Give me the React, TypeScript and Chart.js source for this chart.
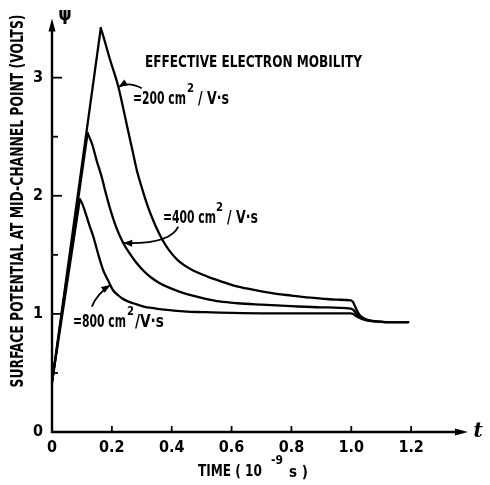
import React, { useEffect, useRef } from "react";
import { Chart, registerables } from "chart.js";

Chart.register(...registerables);

// ---- Data ----
const seriesNames = ["200 cm²/V·s", "400 cm²/V·s", "800 cm²/V·s"];

// index 1 of each series is the peak; before it the potential rises linearly
const t200 = [0, 0.163, 0.175, 0.193, 0.221, 0.25, 0.27, 0.285, 0.30, 0.32, 0.34, 0.36, 0.38, 0.40, 0.42, 0.44, 0.47, 0.50, 0.53, 0.56, 0.60, 0.65, 0.70, 0.75, 0.80, 0.85, 0.90, 0.95, 0.998, 1.006, 1.015, 1.025, 1.04, 1.06, 1.09, 1.13, 1.19];
const psi200 = [0.42, 3.42, 3.32, 3.16, 2.93, 2.60, 2.37, 2.20, 2.07, 1.91, 1.78, 1.67, 1.58, 1.51, 1.455, 1.415, 1.37, 1.335, 1.305, 1.28, 1.245, 1.215, 1.19, 1.17, 1.155, 1.14, 1.13, 1.12, 1.115, 1.10, 1.05, 1.00, 0.965, 0.945, 0.935, 0.93, 0.93];

const t400 = [0, 0.119, 0.135, 0.149, 0.166, 0.18, 0.193, 0.215, 0.238, 0.26, 0.28, 0.304, 0.33, 0.36, 0.393, 0.43, 0.47, 0.51, 0.56, 0.62, 0.70, 0.80, 0.90, 0.998, 1.006, 1.015, 1.025, 1.04, 1.06, 1.09, 1.13, 1.19];
const psi400 = [0.42, 2.53, 2.43, 2.30, 2.16, 2.02, 1.90, 1.73, 1.60, 1.51, 1.44, 1.37, 1.31, 1.26, 1.22, 1.185, 1.155, 1.13, 1.105, 1.09, 1.078, 1.065, 1.055, 1.045, 1.035, 1.01, 0.985, 0.96, 0.943, 0.935, 0.93, 0.93];

const t800 = [0, 0.093, 0.10, 0.11, 0.125, 0.138, 0.155, 0.171, 0.18, 0.19, 0.204, 0.22, 0.235, 0.25, 0.271, 0.29, 0.31, 0.335, 0.36, 0.40, 0.45, 0.50, 0.56, 0.70, 0.85, 0.998, 1.006, 1.015, 1.025, 1.045, 1.07, 1.10, 1.14, 1.19];
const psi800 = [0.42, 1.97, 1.94, 1.87, 1.75, 1.655, 1.50, 1.37, 1.32, 1.27, 1.20, 1.16, 1.13, 1.11, 1.09, 1.075, 1.06, 1.05, 1.04, 1.03, 1.02, 1.015, 1.01, 1.005, 1.005, 1.005, 1.0, 0.985, 0.97, 0.95, 0.938, 0.933, 0.93, 0.93];

const xTickValues = [0, 0.2, 0.4, 0.6, 0.8, 1.0, 1.2];
const xTickLabels = ["0", "0.2", "0.4", "0.6", "0.8", "1.0", "1.2"];
const yTickValues = [0, 0.5, 1, 1.5, 2, 2.5, 3];
const yTickLabels = ["0", "", "1", "", "2", "", "3"];

const FONT = '"DejaVu Sans Condensed", "DejaVu Sans", sans-serif';

function fitText(ctx: CanvasRenderingContext2D, text: string, x: number, y: number, width: number, size: number, align: CanvasTextAlign = "left") {
  ctx.save();
  ctx.font = `bold ${size}px ${FONT}`;
  const w = ctx.measureText(text).width;
  const sx = width / w;
  ctx.translate(x, y);
  ctx.scale(sx, 1);
  ctx.textAlign = align;
  ctx.textBaseline = "middle";
  ctx.fillText(text, 0, 0);
  ctx.restore();
}

function curvedArrow(ctx: CanvasRenderingContext2D, tail: number[], ctrl: number[], head: number[]) {
  ctx.beginPath();
  ctx.moveTo(tail[0], tail[1]);
  ctx.quadraticCurveTo(ctrl[0], ctrl[1], head[0], head[1]);
  ctx.stroke();
  const dx = head[0] - ctrl[0];
  const dy = head[1] - ctrl[1];
  const len = Math.hypot(dx, dy) || 1;
  const ux = dx / len, uy = dy / len;
  const L = 9, W = 3.5;
  ctx.beginPath();
  ctx.moveTo(head[0], head[1]);
  ctx.lineTo(head[0] - ux * L - uy * W, head[1] - uy * L + ux * W);
  ctx.lineTo(head[0] - ux * L + uy * W, head[1] - uy * L - ux * W);
  ctx.closePath();
  ctx.fill();
}

const decorPlugin = {
  id: "decor",
  afterDraw(chart: any) {
    const { ctx, chartArea, scales } = chart;
    const xs = scales.x, ys = scales.y;
    const X = (v: number) => xs.getPixelForValue(v);
    const Y = (v: number) => ys.getPixelForValue(v);
    const x0 = X(0), y0 = Y(0);
    const xEnd = chartArea.right, yTop = chartArea.top;
    ctx.save();
    ctx.strokeStyle = "#000";
    ctx.fillStyle = "#000";
    ctx.lineWidth = 2.4;
    ctx.lineCap = "butt";

    // y axis with arrow
    ctx.beginPath();
    ctx.moveTo(x0, y0 + 1);
    ctx.lineTo(x0, yTop + 8);
    ctx.stroke();
    ctx.beginPath();
    ctx.moveTo(x0, yTop);
    ctx.lineTo(x0 - 3.5, yTop + 13);
    ctx.lineTo(x0 + 3.5, yTop + 13);
    ctx.closePath();
    ctx.fill();

    // x axis with arrow
    ctx.beginPath();
    ctx.moveTo(x0 - 1, y0);
    ctx.lineTo(xEnd - 8, y0);
    ctx.stroke();
    ctx.beginPath();
    ctx.moveTo(xEnd, y0);
    ctx.lineTo(xEnd - 13, y0 - 3.5);
    ctx.lineTo(xEnd - 13, y0 + 3.5);
    ctx.closePath();
    ctx.fill();

    // inward tick marks
    ctx.lineWidth = 1.8;
    yTickValues.forEach((v) => {
      if (v === 0) return;
      const y = Y(v);
      const len = Number.isInteger(v) ? 10 : 6;
      ctx.beginPath();
      ctx.moveTo(x0, y);
      ctx.lineTo(x0 + len, y);
      ctx.stroke();
    });
    xTickValues.forEach((v) => {
      if (v === 0) return;
      const x = X(v);
      ctx.beginPath();
      ctx.moveTo(x, y0);
      ctx.lineTo(x, y0 - 6);
      ctx.stroke();
    });

    // axis symbols
    ctx.font = `bold 17px "DejaVu Sans", sans-serif`;
    ctx.textAlign = "center";
    ctx.textBaseline = "middle";
    ctx.fillText("ψ", x0 + 13, yTop - 3);
    ctx.font = `bold italic 20px "DejaVu Serif", serif`;
    ctx.fillText("t", xEnd + 10, y0);

    // axis titles
    ctx.save();
    ctx.translate(19, 201);
    ctx.rotate(-Math.PI / 2);
    fitText(ctx, "SURFACE POTENTIAL AT MID-CHANNEL POINT (VOLTS)", 0, 0, 373, 17, "center");
    ctx.restore();

    fitText(ctx, "TIME ( 10", 198, 472, 64, 16);
    fitText(ctx, "-9", 271, 461, 12, 13);
    fitText(ctx, "s )", 289, 473, 19, 16);

    // annotation text
    fitText(ctx, "EFFECTIVE ELECTRON MOBILITY", 145, 63, 217, 16);

    fitText(ctx, "=200 cm", 133, 100, 53, 17);
    fitText(ctx, "2", 187, 89, 7, 13);
    fitText(ctx, "/ V·s", 198, 100, 31, 17);

    fitText(ctx, "=400 cm", 163, 219, 53, 17);
    fitText(ctx, "2", 216, 208, 7, 13);
    fitText(ctx, "/ V·s", 227, 219, 31, 17);

    fitText(ctx, "=800 cm", 73, 323, 53, 17);
    fitText(ctx, "2", 127, 312, 7, 13);
    fitText(ctx, "/V·s", 135, 323, 29, 17);

    // arrows pointing to the curves (data coordinates)
    ctx.lineWidth = 1.8;
    curvedArrow(ctx, [X(0.300), Y(2.91)], [X(0.254), Y(2.97)], [X(0.222), Y(2.92)]);
    curvedArrow(ctx, [X(0.422), Y(1.738)], [X(0.394), Y(1.586)], [X(0.238), Y(1.60)]);
    curvedArrow(ctx, [X(0.133), Y(1.061)], [X(0.150), Y(1.17)], [X(0.195), Y(1.245)]);

    ctx.restore();
  },
};

export default function App() {
  const canvasRef = useRef<HTMLCanvasElement | null>(null);

  useEffect(() => {
    const canvas = canvasRef.current;
    if (!canvas) return;
    const base = {
      borderColor: "#000",
      backgroundColor: "#000",
      borderWidth: 2.3,
      pointRadius: 0,
      fill: false,
      borderJoinStyle: "round" as const,
      borderCapStyle: "round" as const,
    };
    const pts = (t: number[], p: number[]) => t.map((x, i) => ({ x, y: p[i] }));
    // each series: straight rise to the peak, then a smooth monotone decay
    const mk = (t: number[], p: number[], label: string) => {
      const all = pts(t, p);
      return [
        { ...base, label: label + " (rise)", data: all.slice(0, 2), tension: 0 },
        { ...base, label, data: all.slice(1), cubicInterpolationMode: "monotone" as const },
      ];
    };
    const chart = new Chart(canvas, {
      type: "line",
      data: {
        datasets: [
          ...mk(t200, psi200, seriesNames[0]),
          ...mk(t400, psi400, seriesNames[1]),
          ...mk(t800, psi800, seriesNames[2]),
        ],
      },
      options: {
        responsive: false,
        animation: false,
        layout: { padding: { left: 0, top: 18, right: 22, bottom: 0 } },
        plugins: {
          legend: { display: false },
          tooltip: { enabled: false },
        },
        scales: {
          x: {
            type: "linear",
            min: 0,
            max: 1.39,
            grid: { display: false, drawTicks: false },
            border: { display: false },
            afterFit: (s: any) => { s.height = 53; },
            afterBuildTicks: (s: any) => { s.ticks = xTickValues.map((v) => ({ value: v })); },
            ticks: {
              color: "#000",
              padding: 6,
              maxRotation: 0,
              autoSkip: false,
              font: { family: FONT, size: 16, weight: "bold" },
              callback: (_v: any, i: number) => xTickLabels[i],
            },
          },
          y: {
            type: "linear",
            min: 0,
            max: 3.5,
            grid: { display: false, drawTicks: false },
            border: { display: false },
            afterFit: (s: any) => { s.width = 52; },
            afterBuildTicks: (s: any) => { s.ticks = yTickValues.map((v) => ({ value: v })); },
            ticks: {
              color: "#000",
              padding: 9,
              autoSkip: false,
              font: { family: FONT, size: 16, weight: "bold" },
              callback: (_v: any, i: number) => yTickLabels[i],
            },
          },
        },
      },
      plugins: [decorPlugin],
    } as any);
    return () => chart.destroy();
  }, []);

  return (
    <div style={{ position: "fixed", left: 0, top: 0, width: 490, height: 485, background: "#fff" }}>
      <canvas ref={canvasRef} width={490} height={485} style={{ width: 490, height: 485, display: "block" }} />
    </div>
  );
}
